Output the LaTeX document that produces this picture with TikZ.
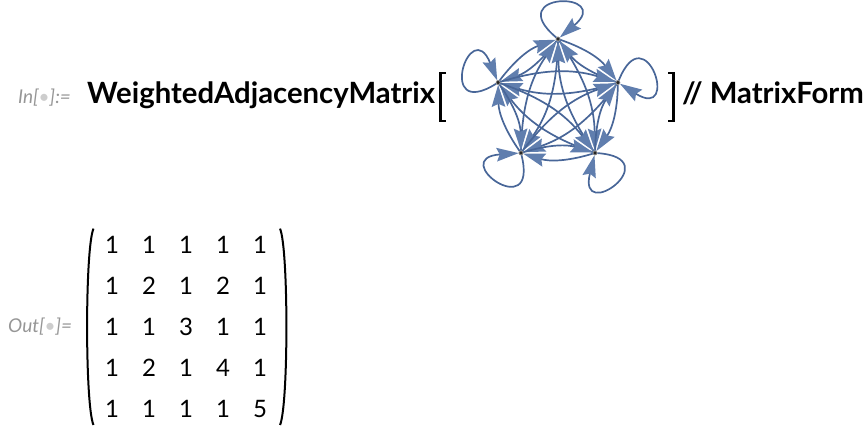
\documentclass[tikz,border=0pt]{standalone}
\usepackage{fontspec}
\setsansfont{Lato}
\usetikzlibrary{arrows.meta,matrix}
\definecolor{edgeblue}{RGB}{72,102,152}
\definecolor{tipblue}{RGB}{96,126,174}
\definecolor{labelgray}{RGB}{150,150,150}
\definecolor{dotgray}{RGB}{205,205,205}
\tikzset{
  vertex/.style={circle, fill=black!85, draw=black!40, line width=0.6pt, inner sep=0pt, minimum size=4pt},
  dedge/.style={draw=edgeblue, line width=1.7pt, -{Stealth[length=22pt,width=13.5pt,inset=3pt,color=tipblue]}},
  selfloop/.style={dedge, min distance=72pt},
  prompt/.style={anchor=base west, inner sep=0pt, text=labelgray, font=\sffamily\itshape\fontsize{19}{22}\selectfont},
  code/.style={anchor=base west, inner sep=0pt, font=\sffamily\bfseries\fontsize{29.3}{35}\selectfont},
  brack/.style={line width=2.6pt},
  paren/.style={line width=2pt},
  cell/.style={minimum width=37pt, minimum height=41pt, inner sep=0pt, font=\sffamily\fontsize{24}{28}\selectfont},
}
\begin{document}
\begin{tikzpicture}[x=1pt,y=1pt]
\useasboundingbox (0,0) rectangle (864,438);
% input line
\node[prompt] (inlabel) at (18,334.5) {In[\textcolor{dotgray}{\textbullet}]:=};
\node[code] (wam) at (87,334.5) {WeightedAdjacencyMatrix};
\draw[brack] (446,365) -- (440.5,365) -- (440.5,317) -- (446,317);
\draw[brack] (668,365) -- (673.5,365) -- (673.5,317) -- (668,317);
\node[code] (mform) at (682,334.5) {// MatrixForm};
% the graph
\coordinate (c) at (558,336);
\node[vertex] (v1) at ([shift={(90:63)}]c) {};
\node[vertex] (v2) at ([shift={(18:63)}]c) {};
\node[vertex] (v3) at ([shift={(-54:63)}]c) {};
\node[vertex] (v4) at ([shift={(-126:63)}]c) {};
\node[vertex] (v5) at ([shift={(162:63)}]c) {};
\draw[dedge] (v1) to[bend left=17] (v2);
\draw[dedge] (v1) to[bend left=17] (v3);
\draw[dedge] (v1) to[bend left=17] (v4);
\draw[dedge] (v1) to[bend left=17] (v5);
\draw[dedge] (v2) to[bend left=17] (v1);
\draw[dedge] (v2) to[bend left=17] (v3);
\draw[dedge] (v2) to[bend left=17] (v4);
\draw[dedge] (v2) to[bend left=17] (v5);
\draw[dedge] (v3) to[bend left=17] (v1);
\draw[dedge] (v3) to[bend left=17] (v2);
\draw[dedge] (v3) to[bend left=17] (v4);
\draw[dedge] (v3) to[bend left=17] (v5);
\draw[dedge] (v4) to[bend left=17] (v1);
\draw[dedge] (v4) to[bend left=17] (v2);
\draw[dedge] (v4) to[bend left=17] (v3);
\draw[dedge] (v4) to[bend left=17] (v5);
\draw[dedge] (v5) to[bend left=17] (v1);
\draw[dedge] (v5) to[bend left=17] (v2);
\draw[dedge] (v5) to[bend left=17] (v3);
\draw[dedge] (v5) to[bend left=17] (v4);
\draw[selfloop] (v1) to[out=140,in=40] (v1);
\draw[selfloop] (v2) to[out=68,in=-32] (v2);
\draw[selfloop] (v3) to[out=-4,in=-104] (v3);
\draw[selfloop] (v4) to[out=-76,in=-176] (v4);
\draw[selfloop] (v5) to[out=212,in=112] (v5);
\foreach \v in {v1,v2,v3,v4,v5} \node[vertex] at (\v) {};
% output
\node[prompt] (outlabel) at (8,105) {Out[\textcolor{dotgray}{\textbullet}]=};
\matrix[matrix of nodes, nodes={cell}] (M) at (186,111.2) {
  1 & 1 & 1 & 1 & 1 \\
  1 & 2 & 1 & 2 & 1 \\
  1 & 1 & 3 & 1 & 1 \\
  1 & 2 & 1 & 4 & 1 \\
  1 & 1 & 1 & 1 & 5 \\
};
\draw[paren] ([shift={(3.5,-8)}]M.north west) .. controls ([shift={(-5,-28)}]M.north west) and ([shift={(-5,28)}]M.south west) .. ([shift={(3.5,8)}]M.south west);
\draw[paren] ([shift={(-2,-8)}]M.north east) .. controls ([shift={(6.5,-28)}]M.north east) and ([shift={(6.5,28)}]M.south east) .. ([shift={(-2,8)}]M.south east);
\end{tikzpicture}
\end{document}
